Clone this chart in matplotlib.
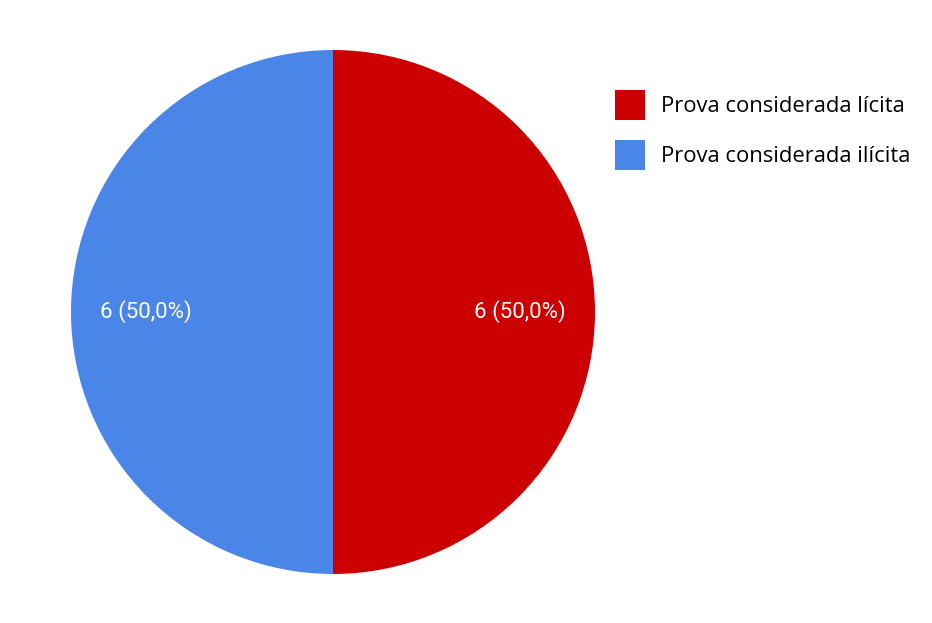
import matplotlib.pyplot as plt

labels = ["Prova considerada lícita", "Prova considerada ilícita"]
values = [6, 6]
colors = ["#cc0000", "#4a86e8"]

total = sum(values)

def fmt(pct):
    n = int(round(pct * total / 100.0))
    return "%d (%s%%)" % (n, ("%.1f" % pct).replace(".", ","))

fig = plt.figure(figsize=(9.32, 6.23), dpi=100)
ax = fig.add_axes([71 / 932, 1 - 574 / 623, 524 / 932, 524 / 623])

wedges, texts, autotexts = ax.pie(values, colors=colors, startangle=90,
                                  counterclock=False, autopct=fmt,
                                  pctdistance=0.714, radius=1,
                                  wedgeprops=dict(linewidth=0))
for t in autotexts:
    t.set_color("white")
    t.set_fontsize(16)
    t.set_family("Roboto")
ax.set_xlim(-1, 1)
ax.set_ylim(-1, 1)
ax.set_aspect("equal")
ax.axis("off")

leg = fig.legend(wedges, labels, loc="upper left",
                 bbox_to_anchor=(615 / 932, 1 - 90 / 623),
                 frameon=False, borderpad=0, borderaxespad=0,
                 handlelength=1.37, handleheight=1.73,
                 handletextpad=0.73, labelspacing=0.91,
                 prop={"family": "Open Sans", "size": 15.8})

plt.savefig("out.png", dpi=100)
